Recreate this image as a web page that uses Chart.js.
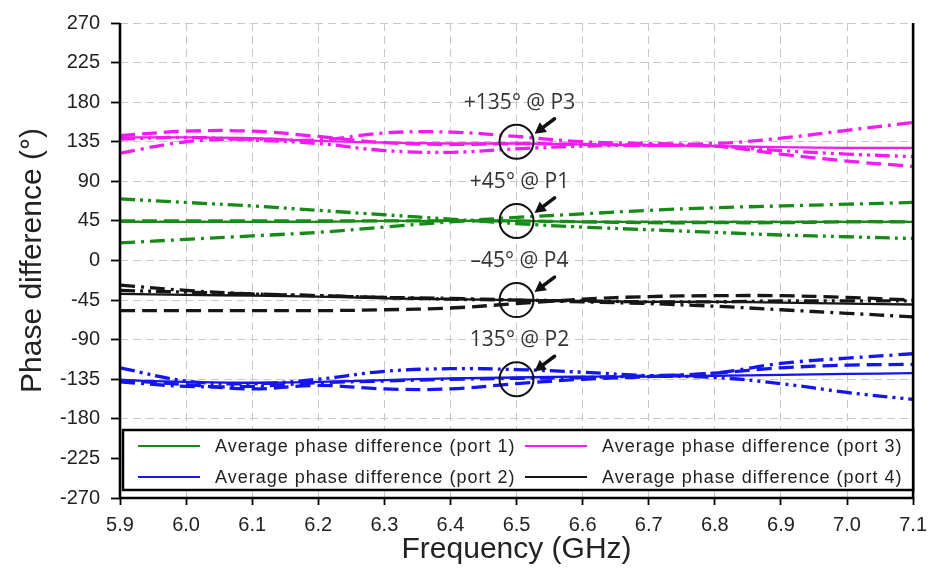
<!DOCTYPE html>
<html>
<head>
<meta charset="utf-8">
<script src="https://cdn.jsdelivr.net/npm/chart.js@4.4.1/dist/chart.umd.min.js"></script>
<style>
  html, body { margin: 0; padding: 0; background: #ffffff; }
  #wrap { width: 935px; height: 573px; }
</style>
</head>
<body>
<div id="wrap"><canvas id="chart" width="935" height="573"></canvas></div>
<script>
// Frequency sweep (GHz)
const freq = [5.9, 6.0, 6.1, 6.2, 6.3, 6.4, 6.5, 6.6, 6.7, 6.8, 6.9, 7.0, 7.1];

// Axis tick values
const xTicks = [5.9, 6.0, 6.1, 6.2, 6.3, 6.4, 6.5, 6.6, 6.7, 6.8, 6.9, 7.0, 7.1];
const yTicks = [-270, -225, -180, -135, -90, -45, 0, 45, 90, 135, 180, 225, 270];

// Port 1 phase difference (deg)
const p1Avg        = [44, 44, 44, 44, 45, 45, 45, 44, 44, 44, 44, 44, 44];
const p1Dash       = [45, 45, 45, 45, 45, 45, 45, 44, 43, 43, 43, 44, 44];
const p1DashDot    = [20, 24, 28, 32, 38, 44, 49, 53, 57, 60, 62, 64, 66];
const p1DashDotDot = [70, 66, 62, 57, 52, 47, 42, 38, 35, 32, 29, 27, 25];

// Port 2 phase difference (deg)
const p2Avg        = [-136, -138, -139, -138, -136, -134, -133, -132, -132, -131, -130, -129, -128];
const p2Dash       = [-136, -141, -146, -142, -146, -146, -140, -135, -132, -128, -122, -119, -118];
const p2DashDot    = [-138, -143, -143, -139, -137, -135, -134, -133, -131, -128, -117, -111, -106];
const p2DashDotDot = [-122, -137, -140, -135, -126, -123, -124, -127, -131, -133, -140, -150, -158];

// Port 3 phase difference (deg)
const p3Avg        = [140, 140, 139, 136, 134, 133, 133, 132, 131, 130, 129, 128, 128];
const p3Dash       = [142, 147, 147, 141, 134, 132, 133, 132, 131, 130, 121, 113, 107];
const p3DashDot    = [122, 135, 138, 137, 145, 146, 141, 135, 133, 133, 139, 148, 157];
const p3DashDotDot = [138, 140, 137, 133, 125, 123, 127, 130, 131, 130, 125, 121, 118];

// Port 4 phase difference (deg)
const p4Avg        = [-38, -39, -40, -41, -43, -44, -45, -46, -47, -47, -48, -49, -50];
const p4Dash       = [-57, -57, -57, -57, -56, -54, -49, -44, -41, -40, -40, -42, -45];
const p4DashDot    = [-28, -34, -38, -40, -42, -43, -45, -47, -49, -52, -56, -60, -64];
const p4DashDotDot = [-34, -36, -38, -40, -42, -44, -45, -46, -47, -47, -46, -46, -46];

// Target phases marked at the centre frequency
const markFreq = 6.5;
const markPhase = [135, 45, -45, -135];
const markText = ['+135° @ P3', '+45° @ P1', '\u201345° @ P4', '135° @ P2'];

const legendLabels = [
  'Average phase difference (port 1)',
  'Average phase difference (port 2)',
  'Average phase difference (port 3)',
  'Average phase difference (port 4)'
];

const COLORS = { p1: '#178a17', p2: '#1515ee', p3: '#f21cf2', p4: '#161616' };
const DASH = { solid: [], dash: [15, 7], dashDot: [15, 6, 3, 6], dashDotDot: [15, 5, 3, 5, 3, 5] };

const toPts = arr => arr.map((v, i) => ({ x: freq[i], y: v }));

function series(values, color, dash, width, legendText) {
  return {
    label: legendText || '',
    data: toPts(values),
    borderColor: color,
    backgroundColor: color,
    borderWidth: width,
    borderDash: dash,
    pointRadius: 0,
    tension: 0.4,
    fill: false
  };
}

const W_SOLID = 2.3, W_BROKEN = 3.3;
const datasets = [
  series(p3Dash, COLORS.p3, DASH.dash, W_BROKEN),
  series(p3DashDot, COLORS.p3, DASH.dashDot, W_BROKEN),
  series(p3DashDotDot, COLORS.p3, DASH.dashDotDot, W_BROKEN),
  series(p3Avg, COLORS.p3, DASH.solid, W_SOLID, legendLabels[2]),
  series(p1Dash, COLORS.p1, DASH.dash, W_BROKEN),
  series(p1DashDot, COLORS.p1, DASH.dashDot, W_BROKEN),
  series(p1DashDotDot, COLORS.p1, DASH.dashDotDot, W_BROKEN),
  series(p1Avg, COLORS.p1, DASH.solid, W_SOLID, legendLabels[0]),
  series(p4Dash, COLORS.p4, DASH.dash, W_BROKEN),
  series(p4DashDot, COLORS.p4, DASH.dashDot, W_BROKEN),
  series(p4DashDotDot, COLORS.p4, DASH.dashDotDot, W_BROKEN),
  series(p4Avg, COLORS.p4, DASH.solid, W_SOLID, legendLabels[3]),
  series(p2Dash, COLORS.p2, DASH.dash, W_BROKEN),
  series(p2DashDot, COLORS.p2, DASH.dashDot, W_BROKEN),
  series(p2DashDotDot, COLORS.p2, DASH.dashDotDot, W_BROKEN),
  series(p2Avg, COLORS.p2, DASH.solid, W_SOLID, legendLabels[1])
];

// Frame, boxed legend inside the plot, and circled target markers
const overlay = {
  id: 'overlay',
  afterDatasetsDraw(chart) {
    const { ctx, chartArea: a, scales } = chart;
    const xs = scales.x, ys = scales.y;

    // axis frame (left, bottom, right)
    ctx.save();
    ctx.strokeStyle = '#000';
    ctx.lineWidth = 2.6;
    ctx.setLineDash([]);
    ctx.beginPath();
    ctx.moveTo(a.left, a.top);
    ctx.lineTo(a.left, a.bottom);
    ctx.lineTo(a.right, a.bottom);
    ctx.lineTo(a.right, a.top);
    ctx.stroke();
    ctx.restore();

    // circled targets with labels and arrows
    ctx.save();
    markPhase.forEach((ph, i) => {
      const cx = xs.getPixelForValue(markFreq);
      const cy = ys.getPixelForValue(ph);
      ctx.strokeStyle = '#111';
      ctx.lineWidth = 2;
      ctx.beginPath();
      ctx.arc(cx, cy, 17, 0, Math.PI * 2);
      ctx.stroke();

      // arrow pointing at the circle
      const tx = cx + 18, ty = cy - 8;
      const sx = cx + 38, sy = cy - 23;
      const ang = Math.atan2(ty - sy, tx - sx);
      ctx.lineWidth = 3.5;
      ctx.lineCap = 'round';
      ctx.beginPath();
      ctx.moveTo(sx, sy);
      ctx.lineTo(tx - 6 * Math.cos(ang), ty - 6 * Math.sin(ang));
      ctx.stroke();
      ctx.fillStyle = '#111';
      ctx.beginPath();
      ctx.moveTo(tx, ty);
      ctx.lineTo(tx - 11 * Math.cos(ang) + 6 * Math.sin(ang), ty - 11 * Math.sin(ang) - 6 * Math.cos(ang));
      ctx.lineTo(tx - 11 * Math.cos(ang) - 6 * Math.sin(ang), ty - 11 * Math.sin(ang) + 6 * Math.cos(ang));
      ctx.closePath();
      ctx.fill();

      ctx.fillStyle = '#333';
      ctx.font = '21px "Open Sans", "Liberation Sans", sans-serif';
      ctx.textAlign = 'center';
      ctx.textBaseline = 'middle';
      ctx.fillText(markText[i], cx + 3, cy - 39);
    });
    ctx.restore();

    // legend box
    const bx = a.left + 3, by = a.bottom - 68, bw = a.right - a.left - 3, bh = 60;
    ctx.save();
    ctx.fillStyle = '#fff';
    ctx.fillRect(bx, by, bw, bh);
    ctx.strokeStyle = '#000';
    ctx.lineWidth = 2.5;
    ctx.strokeRect(bx, by, bw, bh);

    const order = ['p1', 'p3', 'p2', 'p4'];
    const texts = [legendLabels[0], legendLabels[2], legendLabels[1], legendLabels[3]];
    ctx.font = '18px "Liberation Sans", Arial, sans-serif';
    ctx.textAlign = 'left';
    ctx.textBaseline = 'middle';
    try { ctx.letterSpacing = '1px'; } catch (e) {}
    order.forEach((k, i) => {
      const col = i % 2, row = Math.floor(i / 2);
      const lx = col === 0 ? bx + 15 : bx + 402;
      const ly = by + 16 + row * 31;
      ctx.strokeStyle = COLORS[k];
      ctx.lineWidth = 2;
      ctx.beginPath();
      ctx.moveTo(lx, ly);
      ctx.lineTo(lx + 62, ly);
      ctx.stroke();
      ctx.fillStyle = '#222';
      ctx.fillText(texts[i], lx + 77, ly + 1);
    });
    ctx.restore();
  }
};

new Chart(document.getElementById('chart').getContext('2d'), {
  type: 'line',
  data: { datasets },
  options: {
    responsive: false,
    animation: false,
    layout: { padding: { top: 18, right: 17, left: 0, bottom: 0 } },
    plugins: { legend: { display: false }, tooltip: { enabled: false } },
    scales: {
      x: {
        type: 'linear',
        min: 5.9,
        max: 7.1,
        afterBuildTicks: s => { s.ticks = xTicks.map(v => ({ value: v })); },
        afterFit: s => { s.height = 75; },
        ticks: {
          callback: v => Number(v).toFixed(1),
          font: { family: '"Liberation Sans", Arial, sans-serif', size: 20 },
          color: '#222',
          padding: 8,
          maxRotation: 0,
          autoSkip: false
        },
        grid: { color: '#c8c8c8', lineWidth: 1, borderDash: [8, 5], tickColor: '#000', tickLength: 7, tickWidth: 1.8 },
        border: { display: false, dash: [8, 5] },
        title: {
          display: true,
          text: 'Frequency (GHz)',
          font: { family: '"Liberation Sans", Arial, sans-serif', size: 30 },
          color: '#222',
          padding: { top: 0, bottom: 5 }
        }
      },
      y: {
        type: 'linear',
        min: -270,
        max: 270,
        afterBuildTicks: s => { s.ticks = yTicks.map(v => ({ value: v })); },
        afterFit: s => { s.width = 120; },
        ticks: {
          font: { family: '"Liberation Sans", Arial, sans-serif', size: 20 },
          color: '#222',
          padding: 11,
          autoSkip: false
        },
        grid: { color: '#c8c8c8', lineWidth: 1, borderDash: [8, 5], tickColor: '#000', tickLength: 9, tickWidth: 1.8 },
        border: { display: false, dash: [8, 5] },
        title: {
          display: true,
          text: 'Phase difference (°)',
          font: { family: '"Liberation Sans", Arial, sans-serif', size: 30 },
          color: '#222',
          padding: { top: 15, bottom: 0 }
        }
      }
    }
  },
  plugins: [overlay]
});
</script>
</body>
</html>
